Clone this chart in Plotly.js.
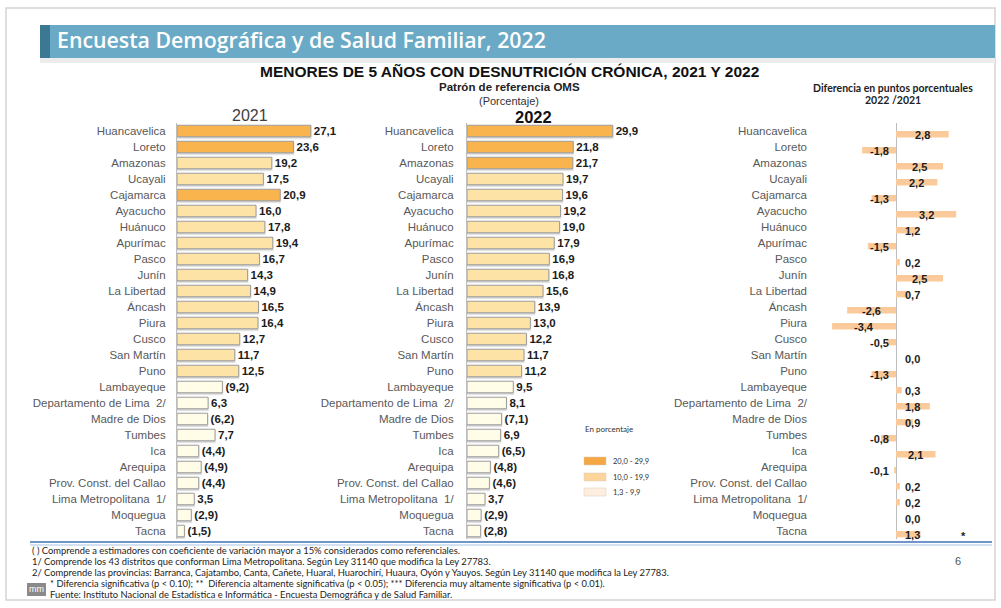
<!DOCTYPE html>
<html><head><meta charset="utf-8">
<script src="https://cdn.plot.ly/plotly-3.0.1.min.js"></script>
<style>html,body{margin:0;padding:0;background:#fff}#chart{width:1001px;height:608px}</style>
</head><body><div id="chart"></div>
<script>
// ---------- DATA ----------
const categories = ["Huancavelica","Loreto","Amazonas","Ucayali","Cajamarca","Ayacucho","Huánuco","Apurímac","Pasco","Junín","La Libertad","Áncash","Piura","Cusco","San Martín","Puno","Lambayeque","Departamento de Lima  2/","Madre de Dios","Tumbes","Ica","Arequipa","Prov. Const. del Callao","Lima Metropolitana  1/","Moquegua","Tacna"];
const values2021 = [27.1,23.6,19.2,17.5,20.9,16.0,17.8,19.4,16.7,14.3,14.9,16.5,16.4,12.7,11.7,12.5,9.2,6.3,6.2,7.7,4.4,4.9,4.4,3.5,2.9,1.5];
const values2022 = [29.9,21.8,21.7,19.7,19.6,19.2,19.0,17.9,16.9,16.8,15.6,13.9,13.0,12.2,11.7,11.2,9.5,8.1,7.1,6.9,6.5,4.8,4.6,3.7,2.9,2.8];
const diffPoints = [2.8,-1.8,2.5,2.2,-1.3,3.2,1.2,-1.5,0.2,2.5,0.7,-2.6,-3.4,-0.5,0.0,-1.3,0.3,1.8,0.9,-0.8,2.1,-0.1,0.2,0.2,0.0,1.3];
const referencial2021 = ["Lambayeque","Madre de Dios","Ica","Arequipa","Prov. Const. del Callao","Moquegua","Tacna"];
const referencial2022 = ["Madre de Dios","Ica","Arequipa","Prov. Const. del Callao","Moquegua","Tacna"];
const significantDiff = ["Tacna"];
const legendLabels = ["20,0 - 29,9","10,0 - 19,9","1,3 - 9,9"];
const footnotes = [
 "( ) Comprende a estimadores con coeficiente de variación mayor a 15% considerados como referenciales.",
 "1/ Comprende los 43 distritos que conforman Lima Metropolitana. Según Ley 31140 que modifica la Ley 27783.",
 "2/ Comprende las provincias: Barranca, Cajatambo, Canta, Cañete, Huaral, Huarochirí, Huaura, Oyón y Yauyos. Según Ley 31140 que modifica la Ley 27783.",
 "* Diferencia significativa (p < 0.10); **  Diferencia altamente significativa (p < 0.05); *** Diferencia muy altamente significativa (p < 0.01).",
 "Fuente: Instituto Nacional de Estadística e Informática - Encuesta Demográfica y de Salud Familiar."
];

// ---------- STYLE ----------
const W = 1001, H = 608;
const px = x => x / W, py = y => 1 - y / H;
const ARIAL = "Arial, 'Liberation Sans', sans-serif";
const CAL = "Lato, 'Open Sans', sans-serif";
const barColors = ["#f9b44e", "#fde3a5", "#fffce8"];
const legendColors = ["#f5a744", "#fdd59c", "#fdeee0"];
const colorFor = v => v >= 20 ? barColors[0] : (v >= 10 ? barColors[1] : barColors[2]);
const fmt = v => v.toFixed(1).replace('.', ',');
const lbl = (v, c, refs) => refs.includes(c) ? "(" + fmt(v) + ")" : fmt(v);

const yTop = 123, yBot = 539;
const yDom = [py(yBot), py(yTop)];

function mainBar(vals, refs, xa, ya) {
  return {
    type: 'bar', orientation: 'h', x: vals, y: categories, xaxis: xa, yaxis: ya,
    width: 0.72,
    marker: {color: vals.map(colorFor), line: {color: '#9c9c9c', width: 1}},
    text: vals.map((v, i) => lbl(v, categories[i], refs)),
    textposition: 'outside', cliponaxis: false, constraintext: 'none',
    textfont: {family: ARIAL, size: 11.5, color: '#1c1c1c', weight: 'bold'},
    hoverinfo: 'skip', showlegend: false
  };
}
function shadowBar(vals, xa, ya) {
  return {
    type: 'bar', orientation: 'h', x: vals, y: categories, xaxis: xa, yaxis: ya,
    width: 0.72, offset: -0.26,
    marker: {color: 'rgba(0,0,0,0.13)', line: {color: 'rgba(0,0,0,0.08)', width: 2}},
    hoverinfo: 'skip', showlegend: false
  };
}

const traces = [
  shadowBar(values2021, 'x', 'y'),
  shadowBar(values2022, 'x2', 'y2'),
  mainBar(values2021, referencial2021, 'x', 'y'),
  mainBar(values2022, referencial2022, 'x2', 'y2'),
  {
    type: 'bar', orientation: 'h', x: diffPoints, y: categories, xaxis: 'x3', yaxis: 'y3',
    width: 0.4, offset: 0,
    marker: {color: '#fbca9a', line: {width: 0}},
    hoverinfo: 'skip', showlegend: false
  }
];

function yAx(anchor, standoff) {
  return {
    domain: yDom, anchor: anchor, type: 'category', categoryorder: 'array', categoryarray: categories,
    range: [25.5, -0.5], showgrid: false, zeroline: false, ticks: '', tickmode: 'linear', tick0: 0, dtick: 1,
    showline: anchor !== 'x3', linecolor: '#bdbdbd', linewidth: 1,
    tickfont: {family: ARIAL, size: 11.5, color: '#595959'}, ticklabelstandoff: standoff, fixedrange: true
  };
}
const xHidden = (dom, rng, anchor) => ({domain: dom, range: rng, anchor: anchor, showgrid: false, zeroline: false, showline: false, showticklabels: false, ticks: '', fixedrange: true});

const annotations = [];
const A = (text, x, y, opts) => annotations.push(Object.assign({text: text, x: px(x), y: py(y), xref: 'paper', yref: 'paper', showarrow: false}, opts));

// header
A("Encuesta Demográfica y de Salud Familiar, 2022", 55, 40, {xanchor: 'left', yanchor: 'middle', font: {family: "'Open Sans', Lato, sans-serif", size: 21.3, color: '#ffffff', weight: 600}});
A("MENORES DE 5 AÑOS CON DESNUTRICIÓN CRÓNICA, 2021 Y 2022", 510, 71, {xanchor: 'center', yanchor: 'middle', font: {family: ARIAL, size: 15.5, color: '#111', weight: 'bold'}});
A("Patrón de referencia OMS", 509, 87, {xanchor: 'center', yanchor: 'middle', font: {family: ARIAL, size: 11.5, color: '#222', weight: 'bold'}});
A("(Porcentaje)", 509, 101, {xanchor: 'center', yanchor: 'middle', font: {family: ARIAL, size: 11, color: '#333'}});
A("2021", 250, 115, {xanchor: 'center', yanchor: 'middle', font: {family: ARIAL, size: 16, color: '#404040'}});
A("2022", 533, 117, {xanchor: 'center', yanchor: 'middle', font: {family: ARIAL, size: 16.5, color: '#111', weight: 'bold'}});
A("Diferencia en puntos porcentuales", 893, 88, {xanchor: 'center', yanchor: 'middle', font: {family: CAL, size: 10.5, color: '#222', weight: 'bold'}});
A("2022 /2021", 893, 100, {xanchor: 'center', yanchor: 'middle', font: {family: CAL, size: 10.5, color: '#222', weight: 'bold'}});

// right-panel value labels (data coords)
diffPoints.forEach((d, i) => {
  const lx = (d >= 0 ? 1 : -1) * Math.max(Math.abs(d) / 2, 0.9);
  annotations.push({text: fmt(d), x: lx, y: categories[i], xref: 'x3', yref: 'y3', showarrow: false, yshift: -4,
    xanchor: 'center', yanchor: 'middle', font: {family: ARIAL, size: 11, color: '#1c1c1c', weight: 'bold'}});
  if (significantDiff.includes(categories[i])) {
    annotations.push({text: "*", x: 3.6, y: categories[i], xref: 'x3', yref: 'y3', showarrow: false, yshift: -5,
      font: {family: ARIAL, size: 11, color: '#222', weight: 'bold'}});
  }
});

// legend
A("En porcentaje", 583, 429, {xanchor: 'left', yanchor: 'middle', font: {family: CAL, size: 8, color: '#333'}});
const legY = [461, 477, 492];
legendLabels.forEach((t, i) => A(t, 611, legY[i], {xanchor: 'left', yanchor: 'middle', font: {family: CAL, size: 7.5, color: '#333'}}));

// footnotes
const fnY = [550, 561, 572, 583, 594];
const fnX = [30, 30, 30, 48, 48];
footnotes.forEach((t, i) => A(t, fnX[i], fnY[i], {xanchor: 'left', yanchor: 'middle', font: {family: CAL, size: 9.4, color: '#222'}}));
A("6", 958, 561, {xanchor: 'center', yanchor: 'middle', font: {family: ARIAL, size: 11, color: '#555'}});
A("mm", 36, 589, {xanchor: 'center', yanchor: 'middle', font: {family: ARIAL, size: 9, color: '#fff'}});

const R = (x0, y0, x1, y1, fill, line) => ({type: 'rect', xref: 'paper', yref: 'paper', x0: px(x0), x1: px(x1), y0: py(y1), y1: py(y0), fillcolor: fill, line: line || {width: 0}, layer: 'below'});
const L = (x0, y0, x1, y1, color, w) => ({type: 'line', xref: 'paper', yref: 'paper', x0: px(x0), x1: px(x1), y0: py(y0), y1: py(y1), line: {color: color, width: w}});

const shapes = [
  R(6, 8, 995, 600, 'rgba(0,0,0,0)', {color: '#d4d4d4', width: 1.5}),
  R(40, 58, 995, 63, '#ececec'),
  R(40, 25, 995, 58, '#6aaac6'),
  R(40, 25, 50, 58, '#3c7892'),
  L(30, 542, 992, 542, '#3f72b8', 1.5),
  L(30, 545, 992, 545, '#a9c3e4', 1),
  R(27, 583, 46, 596, '#8a8a8a'),
];
legendColors.forEach((c, i) => shapes.push(Object.assign(R(584, legY[i] - 4, 606, legY[i] + 4, c, {color: '#d8c8b8', width: 0.5}), {layer: 'above'})));

const layout = {
  width: W, height: H, margin: {l: 0, r: 0, t: 0, b: 0},
  paper_bgcolor: '#ffffff', plot_bgcolor: 'rgba(0,0,0,0)',
  barmode: 'overlay', showlegend: false,
  xaxis: xHidden([px(177), px(335)], [0, 32], 'y'),
  yaxis: yAx('x', 8),
  xaxis2: xHidden([px(467), px(640)], [0, 35.5], 'y2'),
  yaxis2: yAx('x2', 10),
  xaxis3: Object.assign(xHidden([px(812), px(990)], [-4.47, 5.0], 'y3'), {zeroline: true, zerolinecolor: '#bdbdbd', zerolinewidth: 1}),
  yaxis3: yAx('x3', 4),
  annotations: annotations, shapes: shapes
};

Plotly.newPlot('chart', traces, layout, {staticPlot: true, displayModeBar: false});
</script></body></html>
